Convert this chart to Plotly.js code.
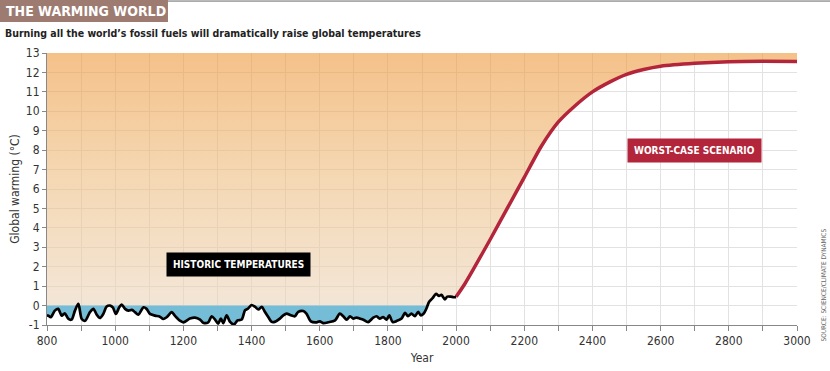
<!DOCTYPE html>
<html>
<head>
<meta charset="utf-8">
<script src="https://cdn.plot.ly/plotly-3.0.1.min.js"></script>
<style>html,body{margin:0;padding:0;background:#fff;}#chart{width:830px;height:371px;}</style>
</head>
<body>
<div id="chart"></div>
<script>
// Historic temperatures (year, °C anomaly)
const histYears = [800,804,811,823,833,843,852,863,872,882,892,902,912,926,936,946,955,965,975,985,993,1002,1012,1019,1029,1039,1049,1058,1068,1083,1092,1102,1117,1131,1141,1151,1166,1175,1190,1200,1219,1234,1249,1258,1273,1283,1293,1302,1310,1317,1327,1337,1349,1359,1371,1381,1390,1400,1410,1420,1430,1439,1449,1459,1468,1483,1493,1503,1515,1527,1537,1552,1561,1574,1591,1600,1610,1625,1645,1659,1669,1679,1689,1698,1708,1718,1728,1742,1757,1767,1776,1786,1796,1804,1814,1825,1840,1850,1859,1869,1879,1889,1896,1905,1913,1921,1931,1941,1950,1957,1967,1974,1984,1993,2000];
const histTemps = [-0.5,-0.52,-0.6,-0.26,-0.17,-0.52,-0.4,-0.69,-0.72,-0.26,0.09,-0.69,-0.78,-0.34,-0.17,-0.47,-0.64,-0.43,-0.05,0.0,-0.09,-0.43,-0.09,0.05,-0.17,-0.26,-0.22,-0.34,-0.47,-0.09,-0.17,-0.43,-0.52,-0.57,-0.69,-0.6,-0.34,-0.52,-0.78,-0.86,-0.67,-0.62,-0.72,-0.88,-0.86,-0.55,-0.72,-0.93,-0.67,-0.9,-0.5,-0.84,-0.97,-0.76,-0.72,-0.24,-0.15,0.03,-0.06,-0.2,-0.06,-0.32,-0.59,-0.84,-0.84,-0.67,-0.5,-0.41,-0.5,-0.55,-0.32,-0.28,-0.41,-0.81,-0.86,-0.81,-0.9,-0.86,-0.76,-0.41,-0.55,-0.73,-0.55,-0.67,-0.62,-0.67,-0.73,-0.85,-0.62,-0.55,-0.67,-0.59,-0.73,-0.5,-0.85,-0.8,-0.67,-0.38,-0.55,-0.41,-0.55,-0.32,-0.5,-0.41,-0.15,0.2,0.38,0.6,0.5,0.55,0.32,0.46,0.46,0.43,0.43];

// Worst-case scenario projection
const scenYears = [2000,2025,2050,2100,2150,2200,2250,2300,2350,2400,2450,2500,2550,2600,2700,2800,2900,3000];
const scenTemps = [0.45,1.1,1.85,3.4,5.0,6.6,8.2,9.45,10.3,11.0,11.5,11.9,12.15,12.32,12.47,12.55,12.57,12.56];

// Axis ticks
const yTickVals = [-1,0,1,2,3,4,5,6,7,8,9,10,11,12,13];
const yTickLabels = ["-1","0","1","2","3","4","5","6","7","8","9","10","11","12","13"];
const xTickVals = [800,1000,1200,1400,1600,1800,2000,2200,2400,2600,2800,3000];
const xTickLabels = xTickVals.map(String);

const yTop = 13;
const FONT = "DejaVu Sans Condensed, Liberation Sans Narrow, Arial Narrow, sans-serif";

// derived boundaries
const lowerX = histYears.concat(scenYears.slice(1));
const lowerY = histTemps.map(v => Math.max(v, 0)).concat(scenTemps.slice(1));
const blueY = histTemps.map(v => Math.min(v, 0));

const traces = [
  {x: lowerX, y: lowerY, mode: 'lines', line: {width: 0, shape: 'spline', smoothing: 0.8}, hoverinfo: 'skip'},
  {x: [histYears[0], scenYears[scenYears.length-1]], y: [yTop, yTop], mode: 'lines', line: {width: 0},
   fill: 'tonexty', fillcolor: 'rgba(238,160,80,0.6)',
   fillgradient: {type: 'vertical', start: 0, stop: yTop,
     colorscale: [[0, 'rgba(235,213,188,0.6)'], [0.5, 'rgba(238,190,130,0.6)'], [1, 'rgba(238,155,65,0.62)']]},
   hoverinfo: 'skip'},
  {x: histYears, y: histYears.map(() => 0), mode: 'lines', line: {width: 0}, hoverinfo: 'skip'},
  {x: histYears, y: blueY, mode: 'lines', line: {width: 0, shape: 'spline', smoothing: 0.8},
   fill: 'tonexty', fillcolor: 'rgba(110,185,212,0.95)', hoverinfo: 'skip'},
  {x: scenYears, y: scenTemps, mode: 'lines', line: {color: '#b3253a', width: 3.5, shape: 'spline', smoothing: 0.6}},
  {x: histYears, y: histTemps, mode: 'lines', line: {color: '#000', width: 2.7, shape: 'spline', smoothing: 0.8}}
];

const layout = {
  width: 830, height: 371,
  margin: {l: 47, r: 33, t: 53, b: 46},
  paper_bgcolor: '#fff', plot_bgcolor: '#fff',
  showlegend: false,
  font: {family: FONT, size: 12, color: '#333'},
  xaxis: {
    range: [800, 3000], tickvals: xTickVals, ticktext: xTickLabels,
    showgrid: true, gridcolor: '#e2e2e2', gridwidth: 1,
    ticks: 'outside', ticklen: 5, tickcolor: '#888',
    showline: true, linecolor: '#888', linewidth: 1,
    zeroline: false,
    minor: {dtick: 100, tick0: 800, showgrid: true, gridcolor: '#e2e2e2', ticks: 'outside', ticklen: 5, tickcolor: '#888'},
    tickfont: {family: FONT, size: 12, color: '#333'},
    title: {text: 'Year', font: {family: FONT, size: 12, color: '#333'}, standoff: 6}
  },
  yaxis: {
    range: [-1, 13], tickvals: yTickVals, ticktext: yTickLabels,
    showgrid: true, gridcolor: '#e2e2e2', gridwidth: 1,
    ticks: 'outside', ticklen: 4, tickcolor: '#888',
    showline: true, linecolor: '#888', linewidth: 1,
    zeroline: false,
    tickfont: {family: FONT, size: 12, color: '#333'},
    title: {text: 'Global warming (°C)', font: {family: FONT, size: 12, color: '#333'}, standoff: 3}
  },
  shapes: [
    {type: 'rect', xref: 'paper', yref: 'paper', x0: -0.0627, x1: 0.1613, y0: 1.114, y1: 1.195, fillcolor: '#9d7b70', line: {width: 0}},
    {type: 'line', xref: 'paper', yref: 'paper', x0: 0.1613, x1: 1.044, y0: 1.191, y1: 1.191, line: {color: '#666', width: 1}}
  ],
  annotations: [
    {xref: 'paper', yref: 'paper', x: -0.058, y: 1.156, xanchor: 'left', yanchor: 'middle', showarrow: false,
     text: '<b>THE WARMING WORLD</b>', font: {family: FONT, size: 14, color: '#fff'}},
    {xref: 'paper', yref: 'paper', x: -0.059, y: 1.074, xanchor: 'left', yanchor: 'middle', showarrow: false,
     text: '<b>Burning all the world\u2019s fossil fuels will dramatically raise global temperatures</b>',
     font: {family: FONT, size: 10.5, color: '#222'}},
    {x: 1362, y: 2.09, xref: 'x', yref: 'y', showarrow: false, text: '<b>HISTORIC TEMPERATURES</b>',
     font: {family: FONT, size: 10, color: '#fff'}, bgcolor: '#000', borderpad: 6},
    {x: 2699, y: 7.98, xref: 'x', yref: 'y', showarrow: false, text: '<b>WORST-CASE SCENARIO</b>',
     font: {family: FONT, size: 10, color: '#fff'}, bgcolor: '#b3253a', borderpad: 6},
    {xref: 'paper', yref: 'paper', x: 1.028, y: -0.07, xanchor: 'left', yanchor: 'bottom', textangle: -90, showarrow: false,
     text: 'SOURCE: SCIENCE/CLIMATE DYNAMICS', font: {family: FONT, size: 6.5, color: '#666'}}
  ]
};

Plotly.newPlot('chart', traces, layout, {displayModeBar: false, staticPlot: true});
</script>
</body>
</html>
